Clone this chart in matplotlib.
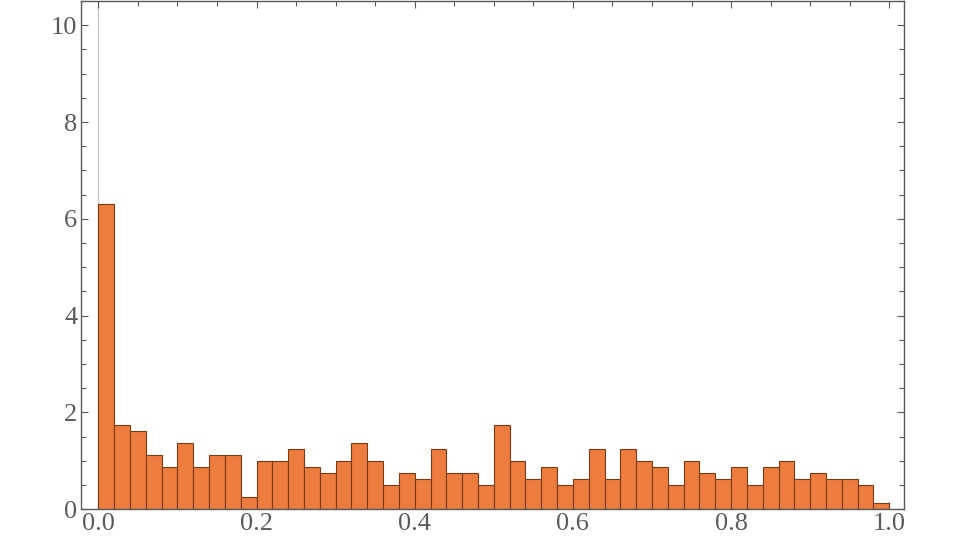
import numpy as np
import matplotlib
matplotlib.use("Agg")
import matplotlib.pyplot as plt
from matplotlib.ticker import MultipleLocator

# histogram heights (density), 50 bins of width 0.02 over [0, 1]
heights = [6.3, 1.75, 1.625, 1.125, 0.875, 1.375, 0.875, 1.125, 1.125, 0.25,
           1.0, 1.0, 1.25, 0.875, 0.75, 1.0, 1.375, 1.0, 0.5, 0.75,
           0.625, 1.25, 0.75, 0.75, 0.5, 1.75, 1.0, 0.625, 0.875, 0.5,
           0.625, 1.25, 0.625, 1.25, 1.0, 0.875, 0.5, 1.0, 0.75, 0.625,
           0.875, 0.5, 0.875, 1.0, 0.625, 0.75, 0.625, 0.625, 0.5, 0.125]
bin_width = 0.02
x_ticks = [0.0, 0.2, 0.4, 0.6, 0.8, 1.0]
y_ticks = [0, 2, 4, 6, 8, 10]

edges = np.arange(len(heights)) * bin_width

plt.rcParams['font.family'] = ['Liberation Serif', 'DejaVu Serif']

fig = plt.figure(figsize=(9.6, 5.4), dpi=100)
ax = fig.add_axes([0.0847, 0.0569, 0.8573, 0.9411])

ax.bar(edges, heights, width=bin_width, align='edge',
       color='#EC7D3F', edgecolor='#7A3A14', linewidth=0.8, zorder=2)
ax.axvline(0, color='#C8C8C8', linewidth=1.0, zorder=1)

ax.set_xlim(-0.0215, 1.019)
ax.set_ylim(0, 10.5)

ax.set_xticks(x_ticks)
ax.set_xticklabels([f"{t:.1f}" for t in x_ticks])
ax.set_yticks(y_ticks)
ax.xaxis.set_minor_locator(MultipleLocator(0.05))
ax.yaxis.set_minor_locator(MultipleLocator(0.5))

for s in ax.spines.values():
    s.set_color('#5A5A5A')
    s.set_linewidth(1.0)

ax.tick_params(which='both', direction='in', top=True, right=True,
               color='#5A5A5A', width=0.8)
ax.tick_params(which='major', length=5, labelsize=19, labelcolor='#5A5A5A', pad=3)
ax.tick_params(which='minor', length=3.5)

fig.savefig('out.png', dpi=100)
